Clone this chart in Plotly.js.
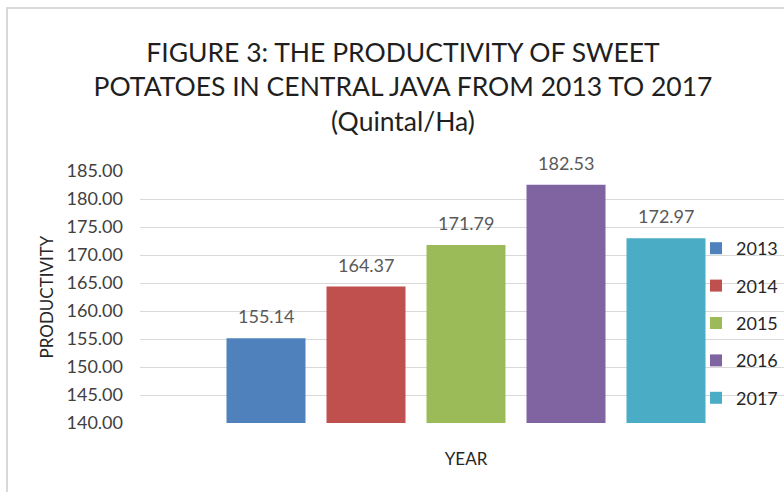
<!DOCTYPE html>
<html>
<head>
<meta charset="utf-8">
<script src="https://cdn.plot.ly/plotly-3.0.1.min.js"></script>
<style>
  html, body { margin: 0; padding: 0; width: 784px; height: 492px; overflow: hidden; background: #ffffff; }
  #frame { position: absolute; left: 6px; top: 7px; width: 1000px; height: 1000px; border: 2px solid #d9d9d9; box-sizing: border-box; }
  #chart { position: absolute; left: 0; top: 0; width: 830px; height: 492px; }
</style>
</head>
<body>
<div id="frame"></div>
<div id="chart"></div>
<script>
const years = ['2013', '2014', '2015', '2016', '2017'];
const productivity = [155.14, 164.37, 171.79, 182.53, 172.97];
const colors = ['#4F81BD', '#C0504D', '#9BBB59', '#8064A2', '#4BACC6'];
const yTicks = [140, 145, 150, 155, 160, 165, 170, 175, 180, 185];

const FONT = 'Lato, "Open Sans", sans-serif';

const traces = years.map((yr, i) => ({
  type: 'bar',
  x: [yr],
  y: [productivity[i]],
  name: yr,
  legendgroup: yr,
  marker: { color: colors[i], line: { width: 0 } },
  hoverinfo: 'none'
}));

// category axis: annotation x is the category's serial index
const annotations = years.map((yr, i) => ({
  x: i,
  y: productivity[i],
  xref: 'x',
  yref: 'y',
  text: productivity[i].toFixed(2),
  showarrow: false,
  yanchor: 'bottom',
  yshift: 9,
  font: { family: FONT, size: 18, color: '#595959' }
}));

const layout = {
  width: 830,
  height: 492,
  paper_bgcolor: 'rgba(0,0,0,0)',
  plot_bgcolor: 'rgba(0,0,0,0)',
  margin: { l: 140, r: 38, t: 171, b: 69, pad: 0 },
  barmode: 'overlay',
  bargap: 0.21,
  title: {
    text: 'FIGURE 3: THE PRODUCTIVITY OF SWEET<br>POTATOES IN CENTRAL JAVA FROM 2013 TO 2017<br>(Quintal/Ha)',
    x: 403 / 830,
    xref: 'container',
    xanchor: 'center',
    y: 1 - 62 / 492,
    yref: 'container',
    yanchor: 'middle',
    font: { family: FONT, size: 26.5, color: '#1f1f1f' }
  },
  xaxis: {
    type: 'category',
    range: [-1.26, 5.26],
    showticklabels: false,
    showgrid: false,
    zeroline: false,
    showline: false,
    ticks: '',
    fixedrange: true,
    title: { text: 'YEAR', standoff: 30, font: { family: FONT, size: 17, color: '#262626' } },
    automargin: false
  },
  yaxis: {
    range: [140, 185],
    tickvals: yTicks,
    ticktext: yTicks.map(v => v.toFixed(2)),
    showgrid: true,
    gridcolor: '#d9d9d9',
    gridwidth: 1,
    zeroline: false,
    showline: false,
    ticks: '',
    ticklabelstandoff: 16,
    tickfont: { family: FONT, size: 18, color: '#404040' },
    fixedrange: true,
    title: { text: 'PRODUCTIVITY', standoff: 8, font: { family: FONT, size: 17, color: '#262626' } },
    automargin: false
  },
  showlegend: true,
  legend: {
    x: (696 - 140) / 652,
    xanchor: 'left',
    y: (423 - 230) / 252,
    yanchor: 'top',
    bgcolor: 'rgba(0,0,0,0)',
    borderwidth: 0,
    traceorder: 'grouped',
    tracegroupgap: 11,
    font: { family: FONT, size: 18, color: '#262626' }
  },
  annotations: annotations,
  hovermode: false
};

Plotly.newPlot('chart', traces, layout, { staticPlot: true, displayModeBar: false });
</script>
</body>
</html>
